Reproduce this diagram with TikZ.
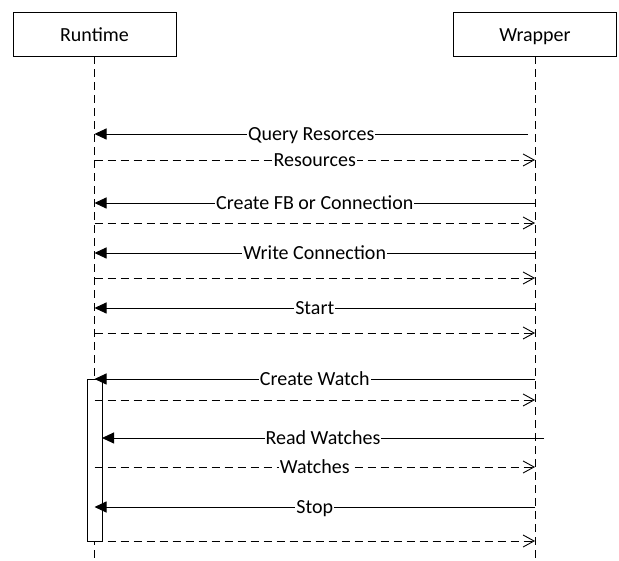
\documentclass[tikz,border=0pt]{standalone}
\usepackage{fontspec}
\setmainfont{Carlito}
\usetikzlibrary{arrows.meta}

\tikzset{
  lifehead/.style={draw, line width=0.9pt, minimum width=163pt, minimum height=44pt,
    inner sep=0pt, text height=19pt, text depth=4pt, font=\fontsize{20}{24}\selectfont},
  lifeline/.style={line width=0.9pt, dash pattern=on 8pt off 5pt},
  call/.style={line width=0.9pt, -{Triangle[length=12pt,width=11pt]}},
  reply/.style={line width=0.9pt, dash pattern=on 8pt off 5pt,
    -{Straight Barb[length=11pt,width=12pt,line width=0.9pt]}},
  lbl/.style={fill=white, inner xsep=1pt, inner ysep=0pt, anchor=base,
    yshift=-6.5pt, font=\fontsize{20}{24}\selectfont},
  activation/.style={draw, fill=white, line width=0.9pt}
}

\begin{document}
\begin{tikzpicture}[x=1pt, y=-1pt]
  \useasboundingbox (0,0) rectangle (619,561);

  % participants
  \node[lifehead] (rt) at (94.5,34) {Runtime};
  \node[lifehead] (wr) at (535,34) {Wrapper};
  \coordinate (rtEnd) at (94.5,561);
  \coordinate (wrEnd) at (535,561);
  \draw[lifeline] (rt.south) -- (rtEnd);
  \draw[lifeline] (wr.south) -- (wrEnd);

  % activation bar on the runtime
  \node[activation, minimum width=15pt, minimum height=162pt, inner sep=0pt,
        anchor=north west] (act) at (87,379) {};

  % message end points on both lifelines
  \foreach \n/\y in {1/134,2/160,3/203,4/223,5/253,6/278,7/308,8/333,
                     9/379,10/400,12/467,13/507,14/541}{
    \coordinate (r\n) at (94.5,\y);
    \coordinate (w\n) at (535,\y);
  }
  \coordinate (w1) at (528,134);
  \coordinate (r11) at (102,438);
  \coordinate (w11) at (544,438);

  % messages
  \draw[call]  (w1)  -- node[lbl] {Query Resorces} (r1);
  \draw[reply] (r2)  -- node[lbl] {Resources} (w2);
  \draw[call]  (w3)  -- node[lbl] {Create FB or Connection} (r3);
  \draw[reply] (r4)  -- (w4);
  \draw[call]  (w5)  -- node[lbl] {Write Connection} (r5);
  \draw[reply] (r6)  -- (w6);
  \draw[call]  (w7)  -- node[lbl] {Start} (r7);
  \draw[reply] (r8)  -- (w8);
  \draw[call]  (w9)  -- node[lbl] {Create Watch} (r9);
  \draw[reply] (r10) -- (w10);
  \draw[call]  (w11) -- node[lbl] {Read Watches} (r11);
  \draw[reply] (r12) -- node[lbl] {Watches} (w12);
  \draw[call]  (w13) -- node[lbl] {Stop} (r13);
  \draw[reply] (r14) -- (w14);
\end{tikzpicture}
\end{document}
